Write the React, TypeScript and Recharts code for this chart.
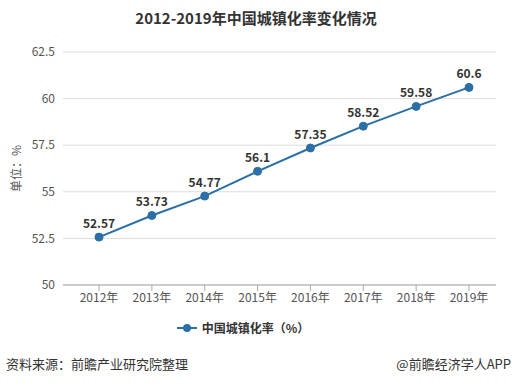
import React from 'react';
import {
  LineChart,
  Line,
  XAxis,
  YAxis,
  CartesianGrid,
  Legend,
  LabelList,
} from 'recharts';

const years = ['2012年', '2013年', '2014年', '2015年', '2016年', '2017年', '2018年', '2019年'];
const rates = [52.57, 53.73, 54.77, 56.1, 57.35, 58.52, 59.58, 60.6];
const yTicks = [50, 52.5, 55, 57.5, 60, 62.5];

const FONT = '"Noto Sans CJK SC", "Noto Sans", sans-serif';
const LINE_COLOR = '#2a6fa6';

const data = years.map((year, i) => ({ year, rate: rates[i] }));

const LegendContent = () => (
  <div
    style={{
      display: 'flex',
      justifyContent: 'center',
      alignItems: 'center',
      fontFamily: FONT,
      fontSize: 12,
      fontWeight: 'bold',
      color: '#333',
      paddingRight: 10,
    }}
  >
    <svg width={20} height={12} style={{ marginRight: 5 }}>
      <line x1={0} y1={6} x2={20} y2={6} stroke={LINE_COLOR} strokeWidth={2} />
      <circle cx={10} cy={6} r={4} fill={LINE_COLOR} />
    </svg>
    中国城镇化率（%）
  </div>
);

export default function App() {
  return (
    <div
      style={{
        position: 'absolute',
        left: 0,
        top: 0,
        width: 512,
        height: 386,
        background: '#fff',
        fontFamily: FONT,
      }}
    >
      <div
        style={{
          position: 'absolute',
          top: 7,
          left: 0,
          width: 512,
          textAlign: 'center',
          fontSize: 15,
          fontWeight: 'bold',
          color: '#333',
        }}
      >
        2012-2019年中国城镇化率变化情况
      </div>
      <LineChart
        width={512}
        height={386}
        data={data}
        margin={{ top: 52, right: 16, bottom: 47, left: 0 }}
      >
        <CartesianGrid vertical={false} stroke="#dcdcdc" />
        <XAxis
          dataKey="year"
          padding={{ left: 36, right: 27 }}
          height={34}
          axisLine={{ stroke: '#aaa' }}
          tickLine={{ stroke: '#aaa' }}
          tickSize={6}
          tick={{ fontSize: 12, fill: '#555', fontFamily: FONT }}
          interval={0}
        />
        <YAxis
          width={63}
          domain={[50, 62.5]}
          ticks={yTicks}
          axisLine={false}
          tickLine={false}
          tick={{ fontSize: 12, fill: '#555', fontFamily: FONT }}
          label={{
            value: '单位：%',
            angle: -90,
            position: 'insideLeft',
            offset: 17,
            style: { fontSize: 12, fill: '#555', fontFamily: FONT, textAnchor: 'middle' },
          }}
        />
        <Legend verticalAlign="bottom" height={20} content={<LegendContent />} />
        <Line
          type="linear"
          dataKey="rate"
          stroke={LINE_COLOR}
          strokeWidth={2}
          dot={{ r: 4, fill: LINE_COLOR, stroke: LINE_COLOR, strokeWidth: 1 }}
          isAnimationActive={false}
        >
          <LabelList
            dataKey="rate"
            position="top"
            offset={9}
            style={{ fontSize: 12, fontWeight: 'bold', fill: '#333', fontFamily: FONT }}
          />
        </Line>
      </LineChart>
      <div
        style={{
          position: 'absolute',
          top: 354,
          left: 6,
          fontSize: 13,
          color: '#333',
        }}
      >
        资料来源：前瞻产业研究院整理
      </div>
      <div
        style={{
          position: 'absolute',
          top: 354,
          right: 1,
          fontSize: 13,
          color: '#333',
        }}
      >
        @前瞻经济学人APP
      </div>
    </div>
  );
}
